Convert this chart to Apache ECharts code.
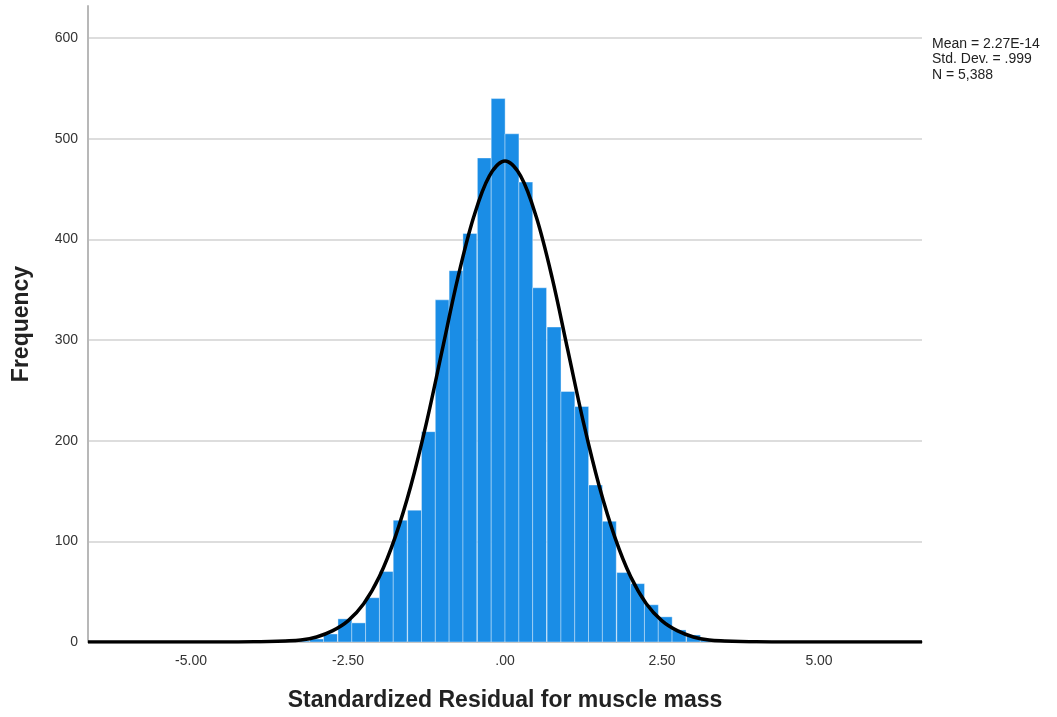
<!DOCTYPE html>
<html>
<head>
<meta charset="utf-8">
<title>Histograma de residuos</title>
<script src="https://cdn.jsdelivr.net/npm/echarts@6/dist/echarts.min.js"></script>
<style>
    html, body { margin: 0; padding: 0; background: #ffffff; }
    #grafica { width: 1057px; height: 717px; }
</style>
</head>
<body>
<div id="grafica"></div>
<script>
// Limite inferior de cada intervalo del histograma (ancho ~0.222)
const limitesInferiores = [-3.33, -3.11, -2.89, -2.66, -2.44, -2.22, -2.00, -1.78, -1.55, -1.33,
    -1.11, -0.89, -0.67, -0.44, -0.22, 0.00, 0.22, 0.44, 0.67, 0.89,
    1.11, 1.33, 1.55, 1.78, 2.00, 2.22, 2.44, 2.66, 2.89, 3.11];
const anchoIntervalo = 0.222;

// Frecuencias
const frecuencias = [1, 3, 8, 23, 19, 44, 70, 121, 131, 209,
    340, 369, 406, 481, 540, 505, 457, 352, 313, 249,
    234, 156, 120, 69, 58, 37, 25, 12, 7, 2];

// Curva normal
const curvaX = [-6.64, -5.0, -4.5, -4.0, -3.75, -3.5, -3.25, -3.0, -2.75, -2.5, -2.25, -2.0, -1.75, -1.5, -1.25, -1.0, -0.75, -0.5, -0.25,
    0, 0.25, 0.5, 0.75, 1.0, 1.25, 1.5, 1.75, 2.0, 2.25, 2.5, 2.75, 3.0, 3.25, 3.5, 3.75, 4.0, 4.5, 5.0, 6.64];
const curvaY = [0, 0, 0, 0.2, 0.4, 1, 2, 5, 11, 21, 38, 65, 104, 155, 218, 290, 362, 422, 463,
    478, 463, 422, 362, 290, 218, 155, 104, 65, 38, 21, 11, 5, 2, 1, 0.4, 0.2, 0, 0, 0];

// Marcas de los ejes
const marcasX = [-5, -2.5, 0, 2.5, 5];
const marcasY = [0, 100, 200, 300, 400, 500, 600];

const estadisticas = ['Mean = 2.27E-14', 'Std. Dev. = .999', 'N = 5,388'];

const fuente = '"Liberation Sans", Arial, sans-serif';

document.addEventListener('DOMContentLoaded', function() {
    var miGrafica = echarts.init(document.getElementById('grafica'));

    const datosBarras = limitesInferiores.map((x, i) => [x, frecuencias[i]]);
    const datosCurva = curvaX.map((x, i) => [x, curvaY[i]]);

    // Dibuja cada barra como rectangulo desde su limite inferior
    function dibujarBarra(params, api) {
        const x0 = api.value(0);
        const arriba = api.coord([x0, api.value(1)]);
        const abajo = api.coord([x0 + anchoIntervalo, 0]);
        return {
            type: 'rect',
            shape: { x: arriba[0], y: arriba[1], width: abajo[0] - arriba[0], height: abajo[1] - arriba[1] },
            style: { fill: '#1a8de6', stroke: 'rgba(255,255,255,0.4)', lineWidth: 1 }
        };
    }

    var opciones = {
        backgroundColor: '#ffffff',
        animation: false,
        title: {
            text: estadisticas.join('\n'),
            left: 932,
            top: 36,
            padding: 0,
            textStyle: { fontFamily: fuente, fontSize: 14, fontWeight: 'normal', color: '#222', lineHeight: 15.5 }
        },
        grid: { left: 88, right: 135, top: 6, bottom: 75 },
        xAxis: {
            type: 'value',
            min: -6.64,
            max: 6.64,
            name: 'Standardized Residual for muscle mass',
            nameLocation: 'middle',
            nameGap: 47,
            nameTextStyle: { fontFamily: fuente, fontSize: 23, fontWeight: 'bold', color: '#222' },
            axisLine: { show: true, onZero: false, lineStyle: { color: '#b8b8b8', width: 2 } },
            axisTick: { show: false, customValues: marcasX },
            splitLine: { show: false },
            axisLabel: {
                customValues: marcasX,
                margin: 12,
                fontFamily: fuente,
                fontSize: 14,
                color: '#333',
                formatter: function(v) {
                    var s = Number(v).toFixed(2);
                    return s.indexOf('0.') === 0 ? s.slice(1) : s;
                }
            }
        },
        yAxis: {
            type: 'value',
            min: 0,
            max: 632,
            name: 'Frequency',
            nameLocation: 'middle',
            nameGap: 55,
            nameTextStyle: { fontFamily: fuente, fontSize: 23, fontWeight: 'bold', color: '#222' },
            axisLine: { show: true, onZero: false, lineStyle: { color: '#b8b8b8', width: 2 } },
            axisTick: { show: false, customValues: marcasY },
            splitLine: { show: true, lineStyle: { color: '#d2d2d2', width: 1.5 } },
            axisLabel: { customValues: marcasY, margin: 10, fontFamily: fuente, fontSize: 14, color: '#333' }
        },
        series: [
            {
                type: 'custom',
                renderItem: dibujarBarra,
                encode: { x: 0, y: 1 },
                data: datosBarras,
                z: 2
            },
            {
                type: 'line',
                data: datosCurva,
                smooth: 0.35,
                showSymbol: false,
                lineStyle: { color: '#000', width: 3.5 },
                z: 5
            }
        ]
    };

    miGrafica.setOption(opciones);
});
</script>
</body>
</html>
